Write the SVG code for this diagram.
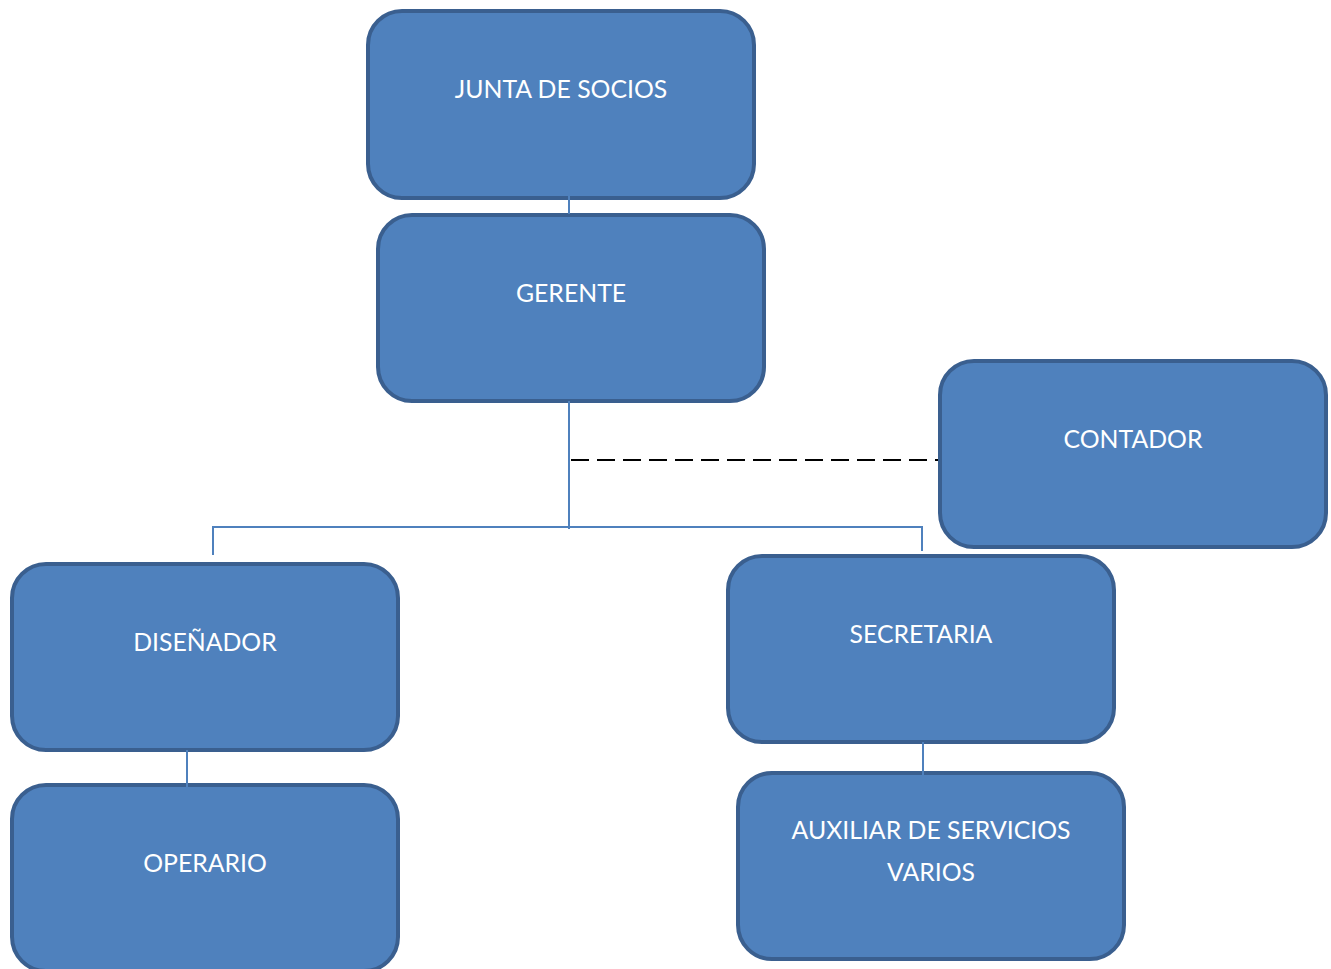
<svg xmlns="http://www.w3.org/2000/svg" width="1331" height="969" viewBox="0 0 1331 969">
<style>
.box{fill:#4f81bd;stroke:#3a5f8f;stroke-width:4}
.lbl{fill:#ffffff;font-family:Lato,"Open Sans","Liberation Sans",sans-serif;font-size:24.8px;text-anchor:middle}
.ln{stroke:#4f81bd;stroke-width:2;fill:none}
.dash{stroke:#000000;stroke-width:2;stroke-dasharray:18 8;fill:none}
</style>
<rect width="1331" height="969" fill="#ffffff"/>
<g id="junta"><rect class="box" x="368" y="11" width="386" height="187" rx="34"/><text class="lbl" x="561" y="98">JUNTA DE SOCIOS</text></g>
<g id="gerente"><rect class="box" x="378" y="215" width="386" height="186" rx="34"/><text class="lbl" x="571" y="302">GERENTE</text></g>
<g id="contador"><rect class="box" x="940" y="361" width="386" height="186" rx="34"/><text class="lbl" x="1133" y="448">CONTADOR</text></g>
<g id="disenador"><rect class="box" x="12" y="564" width="386" height="186" rx="34"/><text class="lbl" x="205" y="651">DISEÑADOR</text></g>
<g id="secretaria"><rect class="box" x="728" y="556" width="386" height="186" rx="34"/><text class="lbl" x="921" y="643">SECRETARIA</text></g>
<g id="operario"><rect class="box" x="12" y="785" width="386" height="186" rx="34"/><text class="lbl" x="205" y="872">OPERARIO</text></g>
<g id="auxiliar"><rect class="box" x="738" y="773" width="386" height="186" rx="34"/><text class="lbl" x="931" y="839">AUXILIAR DE SERVICIOS</text><text class="lbl" x="931" y="881">VARIOS</text></g>
<g id="connectors">
<line class="ln" x1="569" y1="178" x2="569" y2="214"/>
<line class="ln" x1="569" y1="401" x2="569" y2="529"/>
<polyline class="ln" points="213,555 213,527 922,527 922,551"/>
<line class="dash" x1="571" y1="460" x2="938" y2="460"/>
<line class="ln" x1="187" y1="750" x2="187" y2="815"/>
<line class="ln" x1="923" y1="742" x2="923" y2="803"/>
</g>
</svg>
